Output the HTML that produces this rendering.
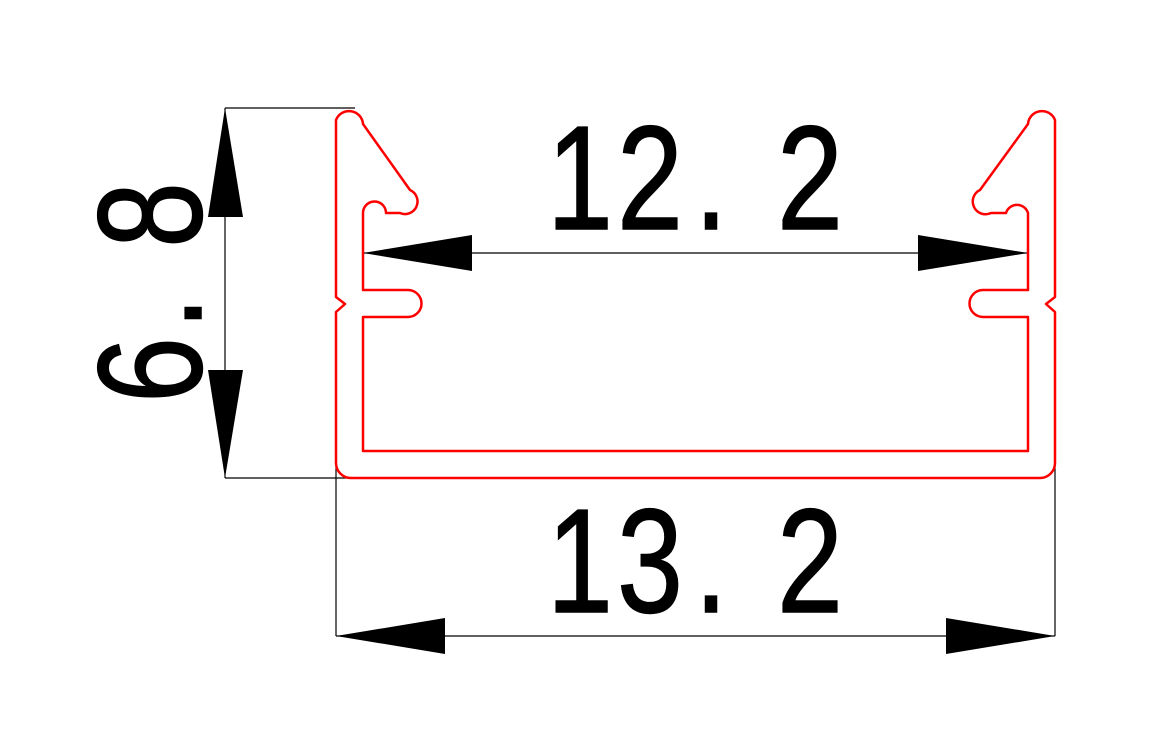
<!DOCTYPE html>
<html><head><style>html,body{margin:0;padding:0;background:#fff}svg{display:block}</style></head>
<body>
<svg width="1155" height="751" viewBox="0 0 1155 751" xmlns="http://www.w3.org/2000/svg">
<g stroke="#000" stroke-width="1.2" fill="none">
<line x1="225" y1="108" x2="355" y2="108"/>
<line x1="225" y1="478" x2="350" y2="478"/>
<line x1="225" y1="108" x2="225" y2="478"/>
<line x1="363" y1="253" x2="1028" y2="253"/>
<line x1="363" y1="253" x2="363" y2="290"/>
<line x1="1028" y1="253" x2="1028" y2="290"/>
<line x1="336" y1="463" x2="336" y2="636"/>
<line x1="1055" y1="463" x2="1055" y2="636"/>
<line x1="336" y1="636" x2="1055" y2="636"/>
</g>
<g fill="#000">
<polygon points="225,108 208,217 243,217"/>
<polygon points="225,478 208,370 243,370"/>
<polygon points="363,253 472,235 472,271"/>
<polygon points="1028,253 918,235 918,271"/>
<polygon points="336,636 445,618 445,654"/>
<polygon points="1055,636 946,618 946,654"/>
</g>
<g fill="none" stroke="#f00" stroke-width="2.5" stroke-linejoin="round">
<path d="M336,120 A14,14 0 0 1 363,124 L410,190 A12,12 0 0 1 400,213 L386,213 A11.5,11.5 0 0 0 363,213 L363,290 L408,290 A13.5,13.5 0 0 1 408,317 L363,317 L363,451 L1028,451 L1028,317 L983,317 A13.5,13.5 0 0 1 983,290 L1028,290 L1028,213 A11.5,11.5 0 0 0 1006,213 L991,213 A12,12 0 0 1 980,190 L1028,124 A14,14 0 0 1 1055,120 L1055,297 L1046,304 L1055,312 L1055,463 A15,15 0 0 1 1040,478 L351,478 A15,15 0 0 1 336,463 L336,312 L345,304 L336,297 Z"/>
</g>
<g font-family="Liberation Sans, sans-serif" font-size="148" fill="#000" text-anchor="middle" stroke="#000" stroke-width="1.5">
<text transform="translate(580,229) scale(0.8,1)">1</text>
<text transform="translate(650,229) scale(0.8,1)">2</text>
<text transform="translate(711,229) scale(0.8,1)">.</text>
<text transform="translate(810,229) scale(0.8,1)">2</text>
<text transform="translate(580,612) scale(0.8,1)">1</text>
<text transform="translate(650,612) scale(0.8,1)">3</text>
<text transform="translate(711,612) scale(0.8,1)">.</text>
<text transform="translate(810,612) scale(0.8,1)">2</text>
<g transform="translate(201,0) rotate(-90)">
<text transform="translate(-370,0) scale(0.8,1)">6</text>
<text transform="translate(-313,0) scale(0.8,1)">.</text>
<text transform="translate(-215,0) scale(0.8,1)">8</text>
</g>
</g>
</svg>
</body></html>
